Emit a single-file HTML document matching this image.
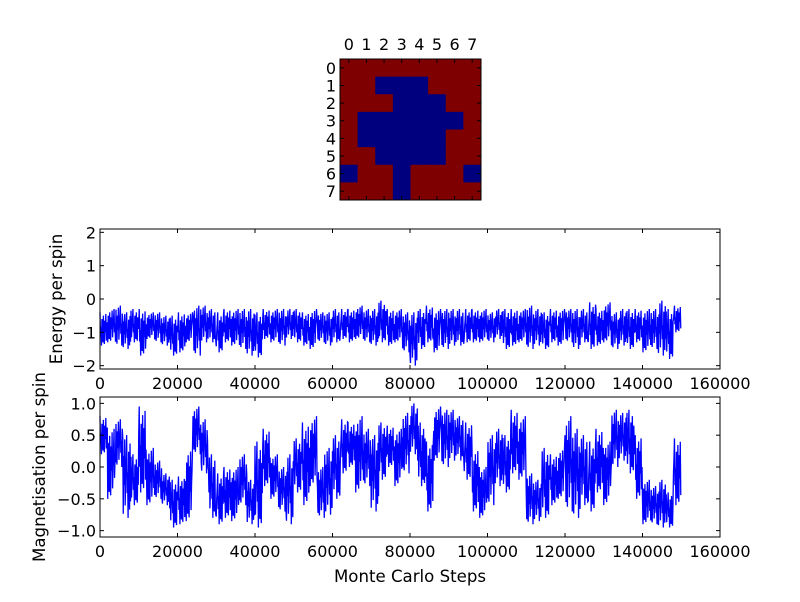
<!DOCTYPE html>
<html><head><meta charset="utf-8"><style>
body{margin:0;background:#fff}
svg text{font-family:"DejaVu Sans","Liberation Sans",sans-serif;font-size:16px;fill:#000}
</style></head><body>
<svg id="fig" width="800" height="597" viewBox="0 0 800 597" xmlns="http://www.w3.org/2000/svg">
<rect width="800" height="597" fill="#fff"/>
<g id="heat"></g>
<g id="energy"></g>
<g id="mag"></g>
<text transform="translate(62,299) rotate(-90)" text-anchor="middle" style="font-size:16.6px">Energy per spin</text>
<text transform="translate(45,467) rotate(-90)" text-anchor="middle" style="font-size:16.6px">Magnetisation per spin</text>
<text x="410" y="582" text-anchor="middle" style="font-size:16.6px">Monte Carlo Steps</text>
</svg>
<script>
const spins = [
[0,0,0,0,0,0,0,0],
[0,0,1,1,1,0,0,0],
[0,0,0,1,1,1,0,0],
[0,1,1,1,1,1,1,0],
[0,1,1,1,1,1,0,0],
[0,0,1,1,1,1,0,0],
[1,0,0,1,0,0,0,1],
[0,0,0,1,0,0,0,0]];
const heatTicks = ["0","1","2","3","4","5","6","7"];
const binSize = 2000;
const energyLo = [-1.4,-1.3,-1.4,-1.5,-1.3,-1.7,-1.2,-1.3,-1.4,-1.7,-1.6,-1.3,-1.7,-1.3,-1.3,-1.6,-1.3,-1.4,-1.5,-1.7,-1.75,-1.2,-1.3,-1.4,-1.2,-1.3,-1.4,-1.5,-1.3,-1.4,-1.3,-1.2,-1.3,-1.2,-1.3,-1.4,-1.3,-1.4,-1.3,-1.6,-2.0,-1.5,-1.3,-1.6,-1.5,-1.4,-1.4,-1.3,-1.3,-1.3,-1.3,-1.2,-1.5,-1.4,-1.3,-1.5,-1.4,-1.5,-1.3,-1.4,-1.3,-1.5,-1.3,-1.5,-1.4,-1.3,-1.5,-1.4,-1.5,-1.3,-1.6,-1.5,-1.7,-1.8,-1.0];
const energyHi = [-0.4,-0.3,-0.2,-0.4,-0.3,-0.3,-0.4,-0.4,-0.5,-0.5,-0.4,-0.4,-0.2,-0.2,-0.3,-0.4,-0.3,-0.3,-0.3,-0.3,-0.4,-0.3,-0.3,-0.3,-0.3,-0.3,-0.4,-0.3,-0.4,-0.4,-0.3,-0.3,-0.3,-0.2,-0.3,-0.3,-0.05,-0.3,-0.3,-0.4,-0.4,-0.3,-0.2,-0.3,-0.3,-0.3,-0.3,-0.3,-0.3,-0.3,-0.4,-0.3,-0.3,-0.3,-0.3,-0.2,-0.3,-0.4,-0.3,-0.3,-0.3,-0.3,-0.3,-0.1,-0.3,-0.1,-0.4,-0.3,-0.3,-0.3,-0.3,-0.3,-0.05,-0.3,-0.2];
const magLo = [0.2,-0.5,0.0,-0.8,-0.6,-0.4,-0.6,-0.5,-0.6,-0.95,-0.9,-0.85,0.2,-0.1,-0.8,-0.9,-0.8,-0.85,-0.6,-0.9,-0.95,-0.3,-0.5,-0.7,-0.9,-0.4,-0.6,-0.3,-0.8,-0.75,-0.5,-0.1,0.0,-0.4,-0.3,-0.7,-0.2,0.0,-0.3,-0.1,0.2,-0.3,-0.7,0.1,0.0,0.1,0.1,-0.2,-0.7,-0.8,-0.6,-0.3,-0.4,-0.1,-0.2,-0.9,-0.85,-0.8,-0.6,-0.5,-0.7,-0.8,-0.6,-0.7,-0.4,-0.6,0.0,0.1,-0.1,-0.5,-0.9,-0.9,-0.95,-0.95,-0.6];
const magHi = [0.8,0.6,0.75,0.5,0.2,0.95,0.3,0.1,-0.1,-0.2,-0.15,0.3,0.95,0.75,0.2,-0.1,0.0,0.0,0.2,-0.2,0.4,0.6,0.2,0.0,0.2,0.45,0.7,0.8,0.0,0.3,0.5,0.75,0.7,0.8,0.6,0.5,0.7,0.65,0.6,0.85,1.0,0.7,0.4,0.95,0.9,0.9,0.8,0.7,0.3,0.0,0.5,0.6,0.5,0.9,0.8,-0.1,-0.2,0.3,0.2,0.3,0.8,0.6,0.5,0.4,0.6,0.4,0.9,0.85,0.9,0.5,-0.2,-0.3,-0.2,-0.4,0.45];
const xTicks = [0,20000,40000,60000,80000,100000,120000,140000,160000];
const energyTicks = [-2,-1,0,1,2];
const magTicks = [-1.0,-0.5,0.0,0.5,1.0];

const NS="http://www.w3.org/2000/svg";
function mk(tag, parent, attrs){const e=document.createElementNS(NS,tag);for(const k in attrs)e.setAttribute(k,attrs[k]);parent.appendChild(e);return e;}

// heatmap
const H=document.getElementById('heat');
const hx0=340,hy0=59,hw=141,hh=141,cw=hw/8,ch=hh/8;
spins.forEach((row,r)=>row.forEach((v,c)=>{
  const e=mk('rect',H,{x:hx0+c*cw,y:hy0+r*ch,width:cw+0.4,height:ch+0.4,fill:v?'#00007f':'#7f0000'});
  
  
}));
const hb=mk('rect',H,{x:hx0,y:hy0,width:hw,height:hh,fill:'none',stroke:'#000','stroke-width':1});


heatTicks.forEach((t,i)=>{
  const cx=hx0+(i+0.5)*cw, cy=hy0+(i+0.5)*ch;
  mk('line',H,{x1:cx,y1:hy0,x2:cx,y2:hy0+4,stroke:'#000'});
  mk('line',H,{x1:cx,y1:hy0+hh,x2:cx,y2:hy0+hh-4,stroke:'#000'});
  mk('line',H,{x1:hx0,y1:cy,x2:hx0+4,y2:cy,stroke:'#000'});
  mk('line',H,{x1:hx0+hw,y1:cy,x2:hx0+hw-4,y2:cy,stroke:'#000'});
  const a=mk('text',H,{x:cx,y:50,'text-anchor':'middle'});a.textContent=t;
  
  
  const b=mk('text',H,{x:336,y:cy+6,'text-anchor':'end'});b.textContent=t;
  
  
});

function chart(g, top, bottom, ymin, ymax, lo, hi, yt, fmt){
  const L=100,R=720;
  const xs=v=>L+(v-0)/(160000-0)*(R-L);
  const ys=v=>bottom-(v-ymin)/(ymax-ymin)*(bottom-top);
  const frac=[1,0.3,0.55,0,0.8,0.6,0.1,0.9,0.2,0.05,0.75,0.4,0.95,0.15,0.5,0.7];
  let d='';
  for(let i=0;i<lo.length;i++){
    const r=hi[i]-lo[i];
    for(let j=0;j<frac.length;j++){
      const x=xs(i*binSize+j*binSize/frac.length), y=ys(lo[i]+frac[(j+i*3)%frac.length]*r);
      d+=(d?'L':'M')+x.toFixed(2)+' '+y.toFixed(2);
    }
  }
  const p=mk('path',g,{d:d,fill:'none',stroke:'#0000ff','stroke-width':1.3,'stroke-linejoin':'miter'});
  
  
  const f=mk('rect',g,{x:L,y:top,width:R-L,height:bottom-top,fill:'none',stroke:'#000','stroke-width':1});
  
  
  xTicks.forEach(t=>{
    const x=xs(t);
    mk('line',g,{x1:x,y1:bottom,x2:x,y2:bottom-4,stroke:'#000'});
    mk('line',g,{x1:x,y1:top,x2:x,y2:top+4,stroke:'#000'});
    const e=mk('text',g,{x:x,y:bottom+20,'text-anchor':'middle'});e.textContent=String(t);
    
    
  });
  yt.forEach(t=>{
    const y=ys(t);
    mk('line',g,{x1:L,y1:y,x2:L+4,y2:y,stroke:'#000'});
    mk('line',g,{x1:R,y1:y,x2:R-4,y2:y,stroke:'#000'});
    const e=mk('text',g,{x:L-4,y:y+6,'text-anchor':'end'});e.textContent=fmt(t);
    
    
  });
}
const minus=s=>s.replace('-','\u2212');
chart(document.getElementById('energy'),229,369,-2.1,2.1,energyLo,energyHi,energyTicks,t=>minus(String(t)));
chart(document.getElementById('mag'),397,537,-1.1,1.1,magLo,magHi,magTicks,t=>minus(t.toFixed(1)));
</script>
</body></html>
